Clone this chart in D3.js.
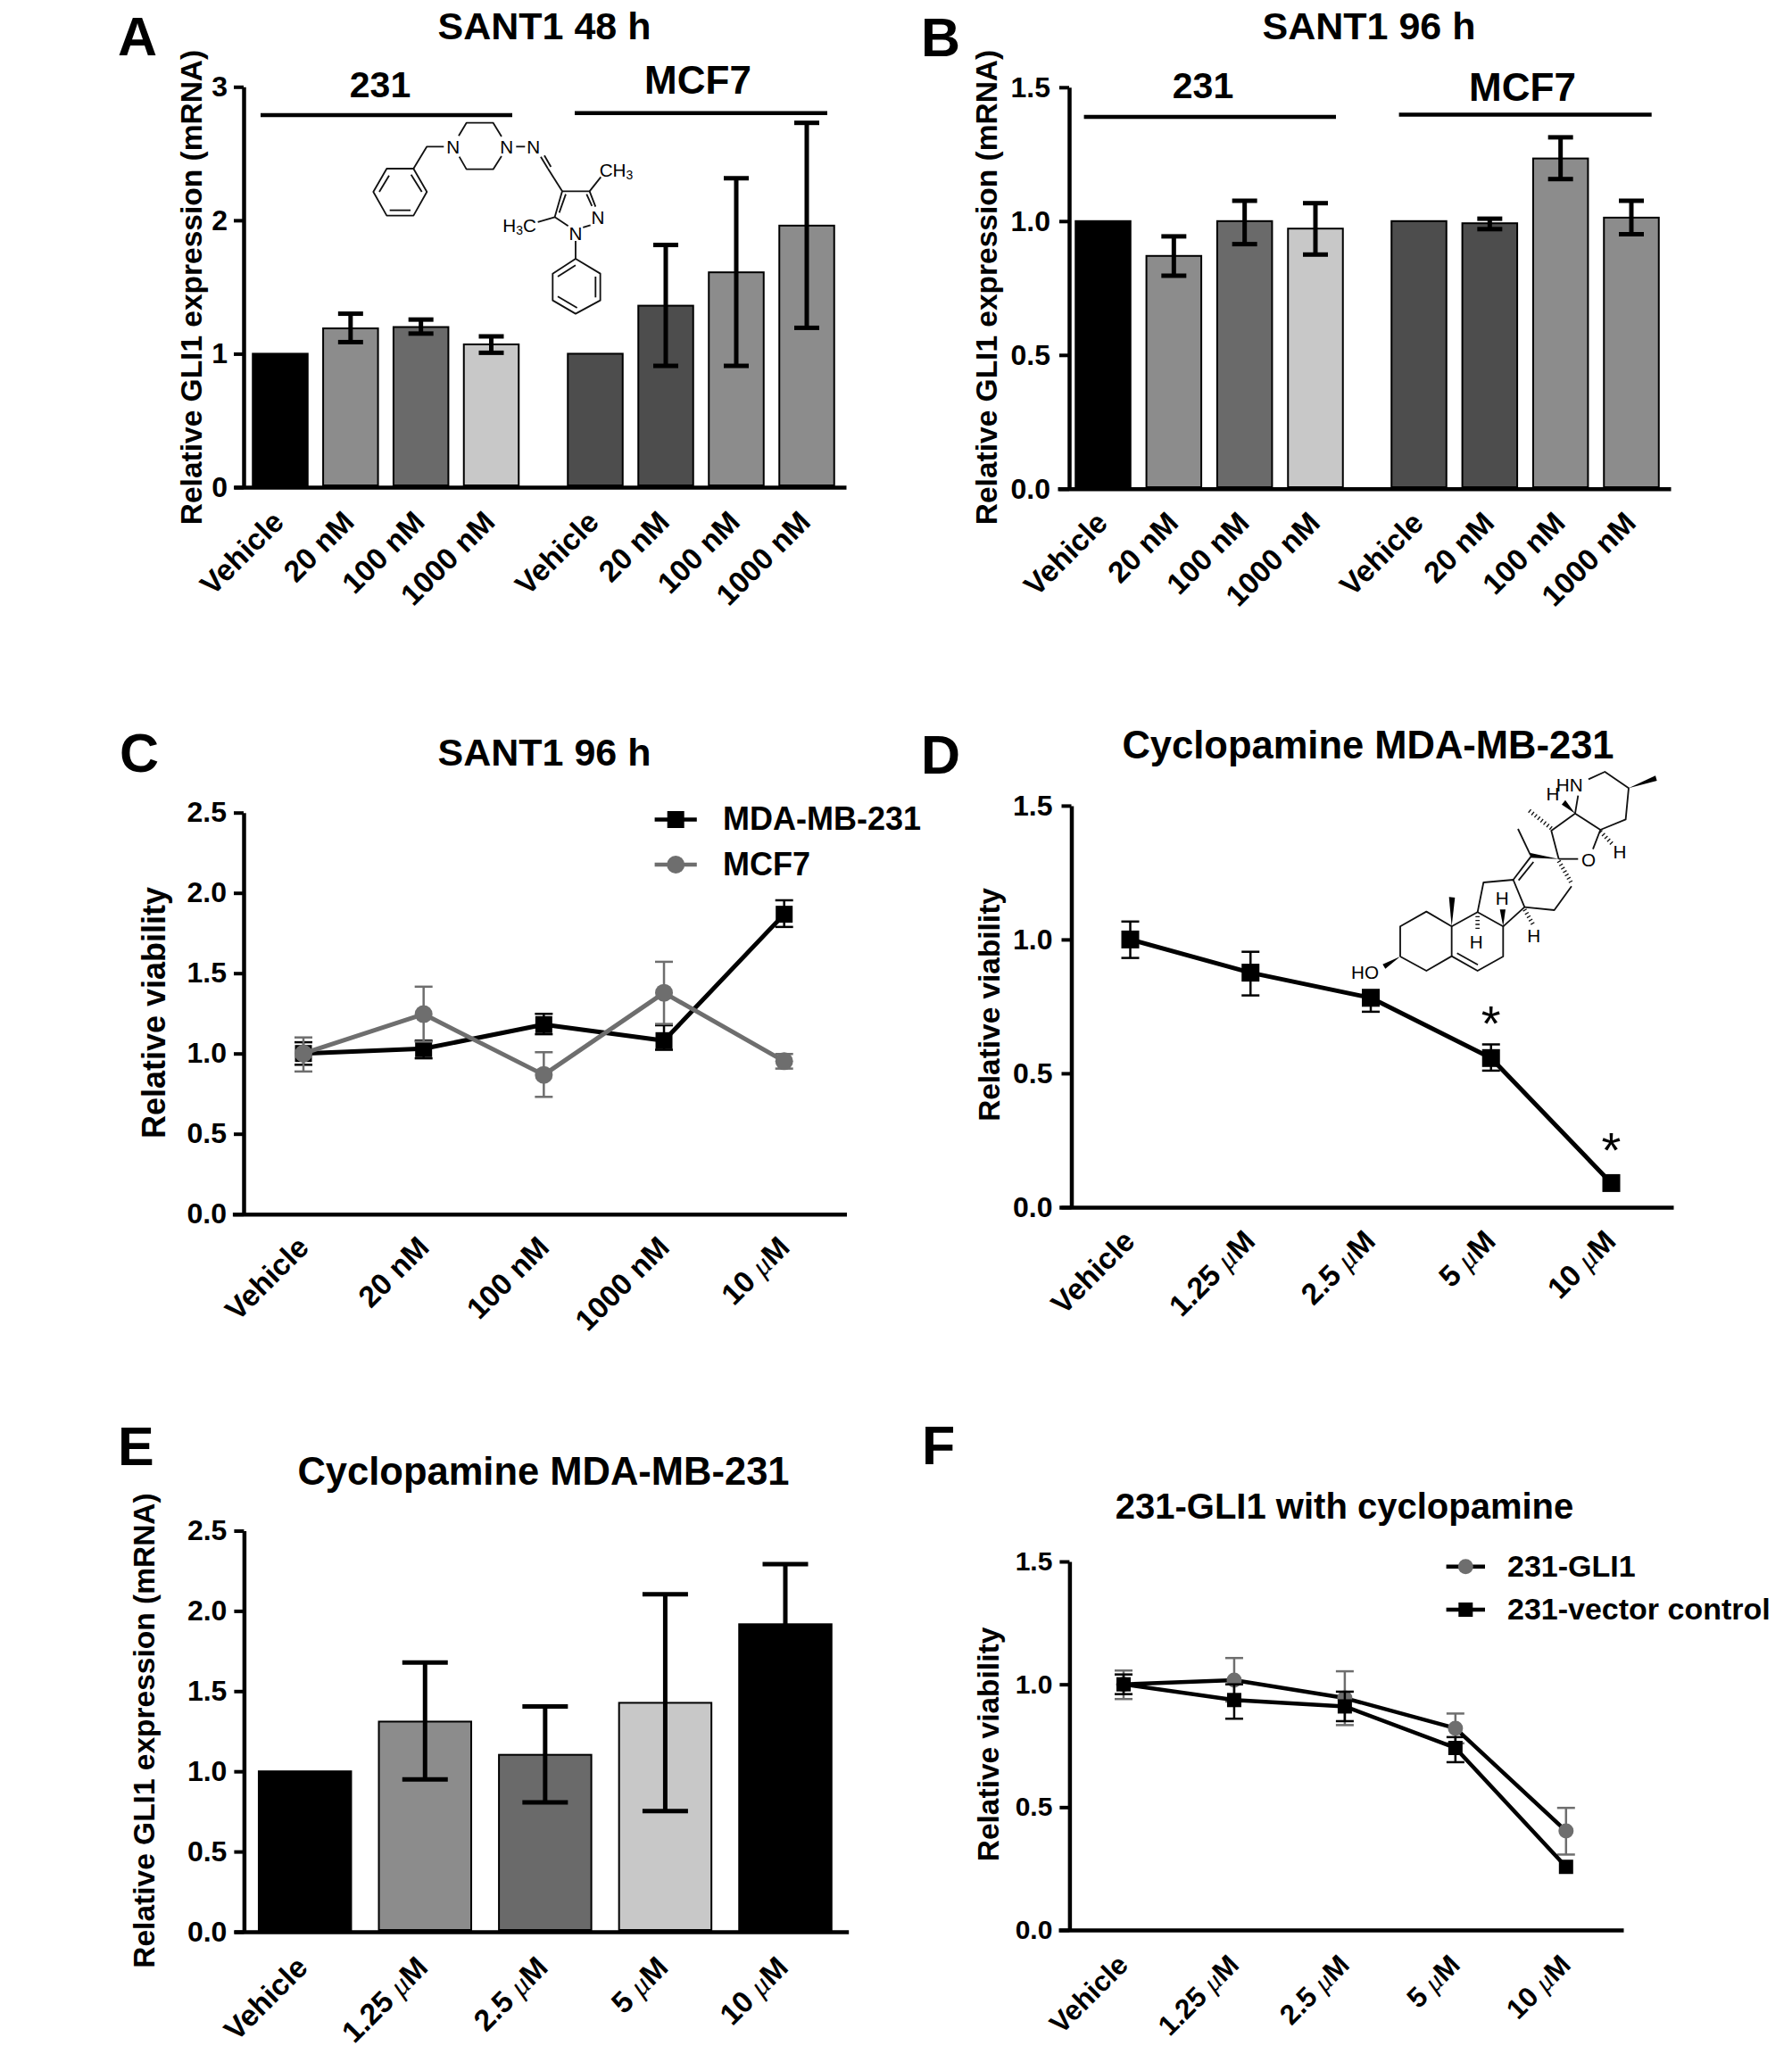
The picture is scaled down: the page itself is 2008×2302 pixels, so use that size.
<!DOCTYPE html>
<html><head><meta charset="utf-8">
<script src="https://cdn.jsdelivr.net/npm/d3@7/dist/d3.min.js"></script>
<style>
html,body{margin:0;padding:0;background:#fff}
svg{display:block}
text{font-family:"Liberation Sans",Arial,sans-serif;font-weight:700;fill:#000}
</style></head><body>
<svg id="c" width="2008" height="2302" xmlns="http://www.w3.org/2000/svg"></svg>
<script>
// ---------- DATA ----------
const doseNM = ["Vehicle","20 nM","100 nM","1000 nM"];
const doseSant = ["Vehicle","20 nM","100 nM","1000 nM","10 μM"];
const doseCyc = ["Vehicle","1.25 μM","2.5 μM","5 μM","10 μM"];
const grayBar = ["#000000","#8c8c8c","#6a6a6a","#c8c8c8"];
const grayBar2 = ["#4d4d4d","#4d4d4d","#8c8c8c","#8c8c8c"];
const grayBarE = ["#000000","#8c8c8c","#6a6a6a","#c8c8c8","#000000"];

const a231 = [1.0,1.19,1.2,1.07];
const a231Hi = [null,1.30,1.256,1.13];
const a231Lo = [null,1.087,1.151,1.007];
const aMCF = [1.0,1.36,1.61,1.96];
const aMCFHi = [null,1.815,2.315,2.73];
const aMCFLo = [null,0.909,0.909,1.194];

const b231 = [1.0,0.87,1.0,0.972];
const b231Hi = [null,0.943,1.076,1.067];
const b231Lo = [null,0.796,0.914,0.875];
const bMCF = [1.0,0.992,1.234,1.013];
const bMCFHi = [null,1.009,1.313,1.076];
const bMCFLo = [null,0.970,1.157,0.951];

const cMDA = [1.0,1.03,1.18,1.08,1.867];
const cMDAHi = [1.07,1.08,1.247,1.176,1.954];
const cMDALo = [0.93,0.97,1.12,1.023,1.788];
const cMCF = [1.0,1.245,0.867,1.378,0.952];
const cMCFHi = [1.10,1.416,1.008,1.571,0.997];
const cMCFLo = [0.888,1.074,0.73,1.184,0.906];

const dVia = [1.0,0.876,0.782,0.557,0.09];
const dHi = [1.067,0.954,0.81,0.608,null];
const dLo = [0.931,0.791,0.73,0.51,null];
const dStars = ["5 μM","10 μM"];

const eVal = [1.0,1.31,1.103,1.427,1.917];
const eHi = [null,1.678,1.404,2.104,2.291];
const eLo = [null,0.949,0.807,0.752,1.54];

const fGli = [1.0,1.017,0.944,0.821,0.403];
const fGliHi = [1.056,1.107,1.053,0.881,0.497];
const fGliLo = [0.94,0.93,0.834,0.76,0.307];
const fVec = [1.0,0.936,0.91,0.741,0.257];
const fVecHi = [1.04,1.0,0.97,0.785,null];
const fVecLo = [0.96,0.86,0.85,0.683,null];

const ticks3 = [0,1,2,3];
const ticks15 = [0,0.5,1.0,1.5];
const ticks25 = [0,0.5,1.0,1.5,2.0,2.5];

// ---------- HELPERS ----------
const svg = d3.select("#c");
const GRAY = "#6e6e6e";
function txt(g,x,y,s,size,anchor="middle",weight=700){
  return g.append("text").attr("x",x).attr("y",y).attr("dy","0.358em")
   .attr("text-anchor",anchor).attr("font-size",size).style("font-weight",weight).text(s);
}
function yAxisLabel(x,cy,s,size){
  svg.append("text").attr("transform",`translate(${x},${cy}) rotate(-90)`)
   .attr("text-anchor","middle").attr("font-size",size).text(s);
}
function frame(o){
  const y = d3.scaleLinear().domain([0,o.max]).range([o.y0,o.yT]);
  const g = svg.append("g");
  const ax = g.append("g").attr("transform",`translate(${o.xA},0)`)
    .call(d3.axisLeft(y).tickValues(o.ticks).tickSize(o.tick||11).tickSizeOuter(0).tickPadding(o.pad||5)
      .tickFormat(o.fmt));
  ax.select(".domain").attr("stroke","#000").attr("stroke-width",4.5);
  ax.selectAll(".tick line").attr("stroke","#000").attr("stroke-width",4);
  ax.selectAll("text").attr("font-size",o.tickFont||32).style("font-family",'"Liberation Sans"').style("font-weight",700);
  const xb = d3.scaleLinear().domain([0,1]).range([o.xL,o.xR]);
  const bx = g.append("g").attr("transform",`translate(0,${o.y0})`)
    .call(d3.axisBottom(xb).tickValues([]).tickSizeOuter(0));
  bx.select(".domain").attr("stroke","#000").attr("stroke-width",4.5);
  return {g,y};
}
function xLabel(g,x,y,s,size){
  const t = g.append("text").attr("transform",`translate(${x},${y}) rotate(-45)`)
    .attr("text-anchor","end").attr("font-size",size);
  const parts = s.split("μ");
  t.append("tspan").text(parts[0]);
  if(parts.length>1){
    t.append("tspan").text("μ").style("font-family",'"Liberation Serif"').style("font-weight",400).style("font-style","italic");
    t.append("tspan").text(parts[1]);
  }
}
function errBars(g,x,y,hi,lo,cap,sw,col,keys){
  hi.forEach((h,i)=>{
    if(h==null) return;
    const c = x(keys[i]);
    const e = g.append("g").attr("stroke",col).attr("stroke-width",sw).attr("fill","none");
    e.append("line").attr("x1",c).attr("x2",c).attr("y1",y(h)).attr("y2",y(lo[i]));
    e.append("line").attr("x1",c-cap/2).attr("x2",c+cap/2).attr("y1",y(h)).attr("y2",y(h));
    e.append("line").attr("x1",c-cap/2).attr("x2",c+cap/2).attr("y1",y(lo[i])).attr("y2",y(lo[i]));
  });
}
function bars(g,x,y,cats,vals,cols,w,y0){
  g.selectAll(null).data(vals).enter().append("rect")
   .attr("x",(d,i)=>x(cats[i])-w/2).attr("width",w)
   .attr("y",d=>y(d)).attr("height",d=>y0-y(d))
   .attr("fill",(d,i)=>cols[i]).attr("stroke","#000").attr("stroke-width",2);
}
const sq = s=>d3.symbol().type(d3.symbolSquare).size(s*s);
const ci = r=>d3.symbol().type(d3.symbolCircle).size(Math.PI*r*r);
function series(g,x,y,cats,vals,lineCol,markCol,sym,sw){
  const line = d3.line().x((d,i)=>x(cats[i])).y(d=>y(d));
  g.append("path").datum(vals).attr("d",line).attr("fill","none").attr("stroke",lineCol).attr("stroke-width",sw).attr("stroke-linejoin","round");
  g.selectAll(null).data(vals).enter().append("path").attr("d",sym)
   .attr("transform",(d,i)=>`translate(${x(cats[i])},${y(d)})`).attr("fill",markCol);
}
function legendItem(x1,x2,y,lineCol,markCol,sym,label,textX,size){
  svg.append("line").attr("x1",x1).attr("x2",x2).attr("y1",y).attr("y2",y).attr("stroke",lineCol).attr("stroke-width",4.5);
  svg.append("path").attr("d",sym).attr("transform",`translate(${(x1+x2)/2},${y})`).attr("fill",markCol);
  txt(svg,textX,y-1,label,size,"start");
}
function groupLine(x1,x2,y){
  svg.append("line").attr("x1",x1).attr("x2",x2).attr("y1",y).attr("y2",y).attr("stroke","#000").attr("stroke-width",4.5);
}
const fmt1 = d3.format(".1f"), fmt0 = d3.format("d");
const LET = 61, XF = 33.5;

// ---------- PANEL A ----------
(function(){
  const {g,y} = frame({max:3,y0:546,yT:97.3,xA:273,xL:262,xR:948,ticks:ticks3,fmt:fmt0,pad:7});
  const x1 = d3.scalePoint().domain(doseNM).range([314,550.5]);
  const x2 = d3.scalePoint().domain(doseNM).range([667,904]);
  bars(g,x1,y,doseNM,a231,grayBar,61.5,544);
  bars(g,x2,y,doseNM,aMCF,grayBar2,61.5,544);
  errBars(g,x1,y,a231Hi,a231Lo,28,5,"#000",doseNM);
  errBars(g,x2,y,aMCFHi,aMCFLo,28,5,"#000",doseNM);
  doseNM.forEach(d=>{xLabel(g,x1(d)+6,587,d,XF);xLabel(g,x2(d)+6,587,d,XF);});
  txt(svg,610,29,"SANT1 48 h",43);
  txt(svg,426,94,"231",41); txt(svg,782,89.5,"MCF7",44);
  groupLine(292,574,129); groupLine(644,927,126.7);
  txt(svg,132,40,"A",LET,"start");
  yAxisLabel(226,322,"Relative GLI1 expression (mRNA)",33.5);
})();

// ---------- PANEL B ----------
(function(){
  const {g,y} = frame({max:1.5,y0:547.8,yT:97.8,xA:1198,xL:1185,xR:1872,ticks:ticks15,fmt:fmt1,pad:10});
  const x1 = d3.scalePoint().domain(doseNM).range([1236,1474]);
  const x2 = d3.scalePoint().domain(doseNM).range([1590,1828]);
  bars(g,x1,y,doseNM,b231,grayBar,61.5,546);
  bars(g,x2,y,doseNM,bMCF,grayBar2,61.5,546);
  errBars(g,x1,y,b231Hi,b231Lo,28,5,"#000",doseNM);
  errBars(g,x2,y,bMCFHi,bMCFLo,28,5,"#000",doseNM);
  doseNM.forEach(d=>{xLabel(g,x1(d)+7,588,d,XF);xLabel(g,x2(d)+7,588,d,XF);});
  txt(svg,1534,29,"SANT1 96 h",43);
  txt(svg,1348,95.5,"231",41); txt(svg,1706,97,"MCF7",44);
  groupLine(1214.6,1497,130.9); groupLine(1567.6,1850.7,128.6);
  txt(svg,1032,41,"B",LET,"start");
  yAxisLabel(1117,322,"Relative GLI1 expression (mRNA)",33.5);
})();

// ---------- PANEL C ----------
(function(){
  const {g,y} = frame({max:2.5,y0:1360.7,yT:910.7,xA:273,xL:260.4,xR:948.5,ticks:ticks25,fmt:fmt1,pad:8});
  const x = d3.scalePoint().domain(doseSant).range([340,878.7]);
  errBars(g,x,y,cMDAHi,cMDALo,20,2.5,"#000",doseSant);
  series(g,x,y,doseSant,cMDA,"#000","#000",sq(19),5);
  errBars(g,x,y,cMCFHi,cMCFLo,20,2.5,GRAY,doseSant);
  series(g,x,y,doseSant,cMCF,GRAY,GRAY,ci(10),5);
  doseSant.forEach(d=>xLabel(g,x(d)+8,1400,d,XF));
  txt(svg,610,842.7,"SANT1 96 h",43);
  txt(svg,134,843,"C",LET,"start");
  yAxisLabel(185,1135,"Relative viability",36);
  legendItem(733.6,780.8,918.5,"#000","#000",sq(19),"MDA-MB-231",810,36);
  legendItem(733.6,780.8,969,GRAY,GRAY,ci(10),"MCF7",810,36);
})();

// ---------- PANEL D ----------
(function(){
  const {g,y} = frame({max:1.5,y0:1352.9,yT:902.9,xA:1200.5,xL:1186.7,xR:1875,ticks:ticks15,fmt:fmt1,pad:10});
  const x = d3.scalePoint().domain(doseCyc).range([1266.5,1805.5]);
  errBars(g,x,y,dHi,dLo,20,2.5,"#000",doseCyc);
  series(g,x,y,doseCyc,dVia,"#000","#000",sq(20),5);
  doseCyc.forEach(d=>xLabel(g,x(d)+7,1393,d,XF));
  // significance marks sit above the points they belong to
  const starY = {"5 μM":1166,"10 μM":1308};
  dStars.forEach(d=>svg.append("text").attr("x",x(d)).attr("y",starY[d]).attr("text-anchor","middle")
     .attr("font-size",56).style("font-weight",400).text("*"));
  txt(svg,1533,834,"Cyclopamine MDA-MB-231",43.5);
  txt(svg,1032,845,"D",LET,"start");
  yAxisLabel(1120,1126,"Relative viability",33.4);
})();

// ---------- PANEL E ----------
(function(){
  const {g,y} = frame({max:2.5,y0:2165,yT:1715.5,xA:273.4,xL:262,xR:950.7,ticks:ticks25,fmt:fmt1,pad:8});
  const x = d3.scalePoint().domain(doseCyc).range([341.7,880]);
  bars(g,x,y,doseCyc,eVal,grayBarE,103.5,2163);
  errBars(g,x,y,eHi,eLo,51,5,"#000",doseCyc);
  doseCyc.forEach(d=>xLabel(g,x(d)+5,2207,d,XF));
  txt(svg,609,1648,"Cyclopamine MDA-MB-231",43.5);
  txt(svg,132,1620,"E",LET,"start");
  yAxisLabel(173,1939.5,"Relative GLI1 expression (mRNA)",33.5);
})();

// ---------- PANEL F ----------
(function(){
  const {g,y} = frame({max:1.5,y0:2163,yT:1750,xA:1198.4,xL:1186,xR:1819,ticks:ticks15,fmt:fmt1,tickFont:30,pad:8});
  const x = d3.scalePoint().domain(doseCyc).range([1259,1754.8]);
  errBars(g,x,y,fGliHi,fGliLo,20,2.5,GRAY,doseCyc);
  series(g,x,y,doseCyc,fGli,"#000",GRAY,ci(8.5),4.5);
  errBars(g,x,y,fVecHi,fVecLo,20,2.5,"#000",doseCyc);
  series(g,x,y,doseCyc,fVec,"#000","#000",sq(16),4.5);
  doseCyc.forEach(d=>xLabel(g,x(d)+7,2204,d,31.5));
  txt(svg,1506.5,1688,"231-GLI1 with cyclopamine",40);
  txt(svg,1033,1619,"F",LET,"start");
  yAxisLabel(1119,1955,"Relative viability",33.5);
  legendItem(1620.6,1664,1755.8,"#000",GRAY,ci(8.5),"231-GLI1",1689,34);
  legendItem(1620.6,1664,1804,"#000","#000",sq(16),"231-vector control",1689,34);
})();

// ---------- CHEMICAL STRUCTURES (decorative line art, local zoom coordinates) ----------
function mol(ox,oy,segs,polys,dashes,labels){
  const g = svg.append("g").attr("transform",`translate(${ox},${oy}) scale(0.3333)`);
  const line = d3.line();
  segs.forEach(s=>g.append("path").attr("d",line(s)).attr("fill","none").attr("stroke","#111").attr("stroke-width",5.5).attr("stroke-linejoin","round"));
  polys.forEach(s=>g.append("path").attr("d",line(s)+"Z").attr("fill","#000"));
  dashes.forEach(s=>g.append("path").attr("d",line(s)).attr("fill","none").attr("stroke","#111").attr("stroke-width",14).attr("stroke-dasharray","4 9"));
  labels.forEach(l=>{
    const t=g.append("text").attr("x",l[0]).attr("y",l[1]).attr("text-anchor",l[3]||"middle").attr("font-size",62).style("font-weight",400);
    const m=l[2].match(/^([A-Z]*)3?([A-Z]*)$/);
    if(l[2].includes("3")){
      t.append("tspan").text(m[1]);
      t.append("tspan").text("3").attr("font-size",42).attr("dy",10);
      if(m[2]) t.append("tspan").text(m[2]).attr("dy",-10);
    } else t.text(l[2]);
  });
}
mol(410,125,[
 [[160,192],[70,192],[25,270],[70,350],[160,350],[205,270],[160,192]],
 [[152,212],[188,270]],[[80,332],[150,332]],[[45,270],[78,215]],
 [[160,192],[205,118],[262,118]],
 [[312,82],[338,38],[428,38],[456,84]],[[314,152],[338,194],[428,194],[456,150]],
 [[505,118],[535,118]],[[588,152],[612,192]],[[600,148],[622,186]],[[612,192],[660,268]],
 [[660,268],[752,268],[772,320]],[[742,278],[760,318]],[[755,382],[730,390]],
 [[680,385],[635,355],[660,268]],[[650,340],[672,278]],
 [[752,268],[790,220]],[[578,372],[635,355]],[[705,435],[705,495]],
 [[705,495],[788,545],[788,635],[705,680],[628,635],[628,545],[705,495]],
 [[772,555],[772,625]],[[710,660],[645,622]],[[645,555],[705,517]]
],[],[],[
 [293,140,"N"],[473,140,"N"],[563,140,"N"],[780,378,"N"],[705,432,"N"],
 [785,219,"CH3","start"],[460,405,"H3C","start"]
]);
mol(1520,860,[
 [[147,636],[147,535],[235,485],[320,535],[320,635],[235,684],[147,636]],
 [[320,635],[407,684],[493,636],[493,535],[407,487],[320,535]],
 [[338,625],[408,664]],
 [[407,487],[427,387],[527,378],[565,470],[493,535]],
 [[527,378],[585,302]],[[545,380],[595,318]],
 [[565,470],[665,480],[723,400]],
 [[585,295],[543,207]],
 [[680,308],[655,213],[735,155],[820,210],[795,275]],[[680,308],[745,308]],
 [[820,210],[905,175],[915,70],[835,15],[780,40]],[[735,155],[745,95]]
],[
 [[147,636],[88,662],[97,677]],
 [[320,535],[311,436],[331,438]],
 [[493,535],[482,478],[501,478]],
 [[680,308],[585,288],[583,304]],
 [[915,70],[1005,28],[1010,45]],
 [[735,155],[690,125],[702,110]]
],[
 [[407,500],[407,552]],[[565,478],[595,530]],[[680,315],[723,390]],
 [[655,205],[580,145]],[[820,215],[860,258]]
],[
 [75,710,"HO","end"],[490,462,"H"],[403,610,"H"],[596,587,"H"],
 [885,305,"H"],[780,334,"O"],[716,82,"HN"],[660,110,"H"]
]);
</script>
</body></html>
